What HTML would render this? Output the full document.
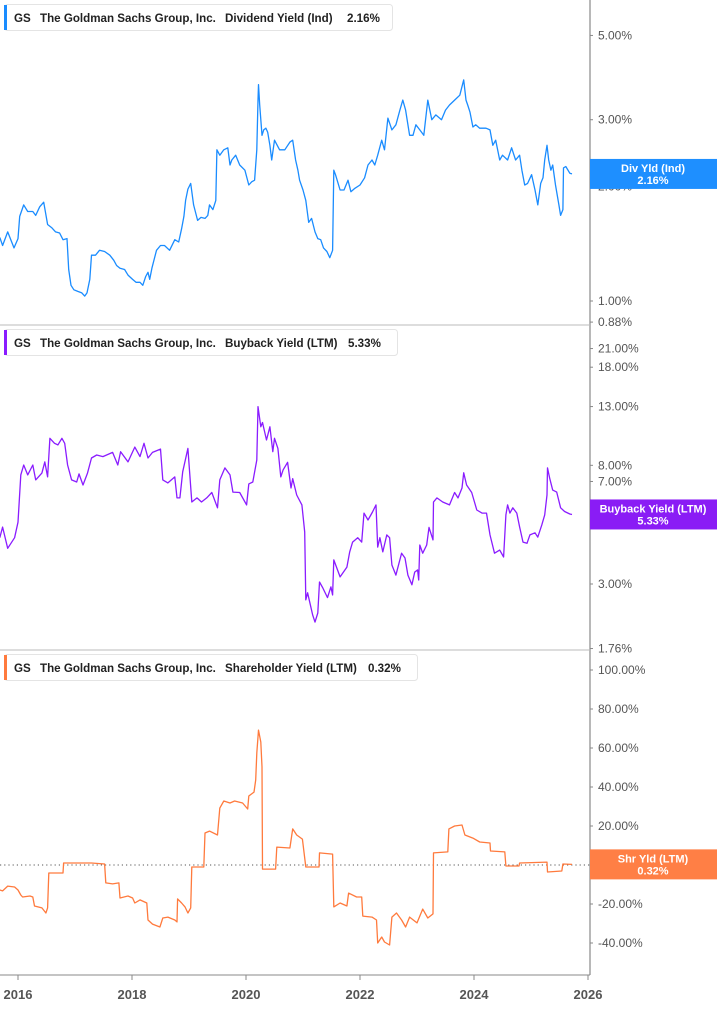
<!DOCTYPE html>
<html><head><meta charset="utf-8">
<style>
html,body{margin:0;padding:0;background:#fff;}
body{width:717px;height:1005px;overflow:hidden;font-family:"Liberation Sans",Arial,sans-serif;}
svg text{font-family:"Liberation Sans",Arial,sans-serif;}
</style></head>
<body>
<svg id="chart" width="717" height="1005" viewBox="0 0 717 1005" xmlns="http://www.w3.org/2000/svg"></svg>
<script>
// ---- data ----
const divDates=[2015.68,2015.73,2015.82,2015.93,2016.00,2016.03,2016.10,2016.17,2016.26,2016.31,2016.38,2016.45,2016.52,2016.59,2016.66,2016.73,2016.79,2016.86,2016.89,2016.93,2016.98,2017.05,2017.12,2017.17,2017.21,2017.26,2017.29,2017.36,2017.43,2017.52,2017.61,2017.68,2017.73,2017.79,2017.87,2017.93,2018.01,2018.07,2018.14,2018.19,2018.24,2018.28,2018.31,2018.35,2018.43,2018.50,2018.57,2018.66,2018.75,2018.82,2018.87,2018.91,2018.94,2018.98,2019.03,2019.08,2019.15,2019.21,2019.28,2019.33,2019.36,2019.42,2019.47,2019.49,2019.54,2019.61,2019.68,2019.72,2019.75,2019.82,2019.89,2019.98,2020.05,2020.10,2020.15,2020.19,2020.21,2020.22,2020.24,2020.28,2020.31,2020.35,2020.38,2020.42,2020.45,2020.50,2020.59,2020.68,2020.77,2020.82,2020.87,2020.91,2020.94,2021.00,2021.05,2021.10,2021.15,2021.21,2021.26,2021.31,2021.36,2021.42,2021.47,2021.52,2021.54,2021.57,2021.65,2021.72,2021.79,2021.84,2021.91,2022.00,2022.08,2022.14,2022.21,2022.26,2022.31,2022.38,2022.43,2022.49,2022.56,2022.63,2022.70,2022.75,2022.80,2022.87,2022.93,2022.98,2023.05,2023.12,2023.19,2023.26,2023.33,2023.43,2023.50,2023.57,2023.66,2023.75,2023.82,2023.86,2023.89,2023.93,2023.98,2024.03,2024.10,2024.21,2024.28,2024.33,2024.38,2024.45,2024.50,2024.59,2024.66,2024.73,2024.80,2024.84,2024.89,2024.94,2025.01,2025.07,2025.12,2025.17,2025.21,2025.24,2025.28,2025.31,2025.35,2025.38,2025.43,2025.49,2025.52,2025.56,2025.57,2025.61,2025.68,2025.72];
const divValues=[1.47,1.40,1.52,1.38,1.46,1.67,1.79,1.72,1.72,1.68,1.77,1.82,1.59,1.56,1.52,1.51,1.45,1.46,1.21,1.10,1.07,1.06,1.05,1.03,1.05,1.14,1.32,1.32,1.36,1.35,1.32,1.28,1.24,1.22,1.21,1.17,1.14,1.12,1.12,1.10,1.16,1.19,1.14,1.22,1.36,1.40,1.40,1.36,1.45,1.43,1.55,1.67,1.84,1.97,2.04,1.79,1.63,1.66,1.65,1.68,1.79,1.74,1.84,2.50,2.42,2.50,2.53,2.28,2.35,2.42,2.28,2.21,2.02,2.06,2.08,2.50,3.38,3.71,3.28,2.73,2.82,2.85,2.78,2.57,2.35,2.65,2.50,2.50,2.62,2.65,2.35,2.21,2.08,1.96,1.84,1.61,1.65,1.52,1.46,1.45,1.38,1.35,1.30,1.36,2.21,2.15,1.96,1.96,2.08,1.94,1.98,2.02,2.11,2.28,2.35,2.28,2.42,2.65,2.50,3.03,2.82,2.91,3.18,3.38,3.18,2.73,2.73,2.91,2.82,2.73,3.38,3.00,3.09,3.00,3.18,3.28,3.38,3.48,3.82,3.38,3.28,3.14,2.87,2.91,2.85,2.85,2.82,2.57,2.65,2.35,2.42,2.35,2.53,2.35,2.42,2.21,2.02,2.04,2.15,1.96,1.79,2.04,2.11,2.35,2.57,2.35,2.21,2.28,2.02,1.79,1.68,1.74,2.24,2.26,2.17,2.16];

const bbDates=[2015.68,2015.73,2015.82,2015.94,2016.00,2016.05,2016.10,2016.17,2016.26,2016.31,2016.42,2016.47,2016.52,2016.56,2016.64,2016.70,2016.77,2016.82,2016.87,2016.94,2017.03,2017.07,2017.14,2017.22,2017.29,2017.38,2017.49,2017.66,2017.75,2017.80,2017.93,2018.05,2018.14,2018.21,2018.28,2018.36,2018.50,2018.54,2018.63,2018.75,2018.79,2018.84,2018.89,2018.98,2019.05,2019.14,2019.22,2019.31,2019.40,2019.50,2019.54,2019.63,2019.72,2019.77,2019.89,2020.01,2020.05,2020.12,2020.19,2020.21,2020.26,2020.29,2020.36,2020.42,2020.47,2020.50,2020.56,2020.61,2020.65,2020.73,2020.79,2020.82,2020.89,2020.98,2021.03,2021.05,2021.08,2021.17,2021.21,2021.26,2021.29,2021.35,2021.43,2021.49,2021.52,2021.54,2021.65,2021.77,2021.82,2021.87,2021.96,2022.03,2022.07,2022.14,2022.22,2022.28,2022.31,2022.35,2022.40,2022.47,2022.52,2022.56,2022.63,2022.73,2022.79,2022.84,2022.91,2022.96,2023.01,2023.03,2023.05,2023.10,2023.17,2023.21,2023.28,2023.29,2023.35,2023.45,2023.57,2023.66,2023.72,2023.79,2023.82,2023.87,2023.96,2024.05,2024.14,2024.22,2024.28,2024.36,2024.45,2024.52,2024.56,2024.59,2024.63,2024.68,2024.75,2024.80,2024.86,2024.93,2024.98,2025.07,2025.12,2025.19,2025.24,2025.28,2025.29,2025.33,2025.38,2025.45,2025.52,2025.59,2025.68,2025.72];
const bbValues=[4.40,4.80,4.03,4.40,5.00,7.39,8.02,7.39,8.02,7.09,7.50,8.23,7.27,10.0,9.6,9.47,10.0,9.6,8.02,7.09,6.97,7.45,6.80,7.5,8.5,8.71,8.6,8.9,8.02,8.95,8.23,9.3,8.6,9.6,8.5,8.9,9.15,7.09,6.92,7.27,6.11,6.11,7.58,9.2,5.91,6.11,5.91,6.11,6.39,5.63,7.09,7.83,7.39,6.41,6.39,5.77,6.86,6.97,8.36,13.0,11.0,11.4,9.86,11.0,8.95,10.0,9.2,7.27,7.70,8.2,6.63,7.16,6.26,5.77,4.61,2.63,2.79,2.32,2.19,2.36,3.05,2.90,2.68,2.93,2.74,3.66,3.18,3.45,3.91,4.24,4.40,4.24,5.39,5.09,5.44,5.77,4.07,4.40,3.91,4.50,4.40,3.51,3.23,3.87,3.72,3.23,2.98,3.31,3.37,3.10,4.14,3.87,4.14,4.79,4.32,5.91,6.11,5.91,5.77,6.39,6.11,6.63,7.52,6.80,6.39,5.53,5.39,5.39,4.50,3.87,3.97,3.75,5.31,5.77,5.39,5.63,5.39,4.81,4.24,4.20,4.50,4.58,4.42,4.89,5.31,6.26,7.83,7.16,6.52,6.41,5.63,5.46,5.35,5.33];

const shDates=[2015.68,2015.73,2015.82,2015.94,2016.00,2016.05,2016.08,2016.21,2016.26,2016.29,2016.42,2016.49,2016.52,2016.54,2016.79,2016.80,2017.08,2017.29,2017.52,2017.54,2017.66,2017.77,2017.79,2017.93,2018.01,2018.05,2018.14,2018.26,2018.28,2018.36,2018.49,2018.54,2018.63,2018.75,2018.79,2018.80,2018.87,2018.93,2018.98,2019.03,2019.05,2019.26,2019.28,2019.36,2019.50,2019.54,2019.61,2019.72,2019.80,2019.94,2020.03,2020.05,2020.14,2020.17,2020.19,2020.22,2020.26,2020.28,2020.29,2020.52,2020.54,2020.77,2020.82,2020.89,2020.99,2021.05,2021.28,2021.29,2021.52,2021.54,2021.65,2021.77,2021.80,2021.94,2022.03,2022.05,2022.21,2022.29,2022.31,2022.38,2022.43,2022.52,2022.56,2022.64,2022.73,2022.80,2022.87,2023.00,2023.10,2023.19,2023.28,2023.29,2023.54,2023.56,2023.66,2023.79,2023.84,2023.98,2024.10,2024.28,2024.29,2024.54,2024.56,2024.79,2024.80,2025.28,2025.29,2025.54,2025.56,2025.72];
const shValues=[-12.8,-13.3,-10.8,-11.3,-12.8,-15.4,-16.4,-15.9,-16.4,-21,-22,-24.6,-22,-4.1,-4.1,1.0,1.0,1.0,0.5,-9.2,-9.7,-9.2,-16.9,-15.9,-16.9,-19.5,-17.9,-19.5,-28.2,-30.3,-31.8,-27.2,-26.7,-28.2,-29.2,-17.4,-19.5,-21.5,-24.6,-22,-1.0,-1.0,16.4,17.4,15.4,29.2,32.8,31.8,32.8,31.8,28.7,35.4,37.4,43.6,57.4,69.2,63.1,50.3,-2.1,-2.1,9.2,8.7,18.5,15.4,13.3,-1.0,-1.0,6.2,5.6,-21.5,-19.5,-21,-14.4,-16.4,-16.4,-26.2,-26.7,-28.2,-40,-36.9,-39.5,-41,-26.7,-24.6,-28.2,-31.8,-26.7,-29.7,-22.6,-27.2,-25.1,6.2,6.7,18.5,20,20.5,15.4,13.8,11.8,11.3,7.2,6.7,-0.5,-0.5,1.0,1.5,-3.6,-3.1,0.5,0.32];

const yearTicks=[2016,2018,2020,2022,2024,2026];
const divTicks=[5,3,2,1,0.88];
const bbTicks=[21,18,13,8,7,3,1.76];
const shTicks=[100,80,60,40,20,0,-20,-40];

// ---- axis functions ----
const AX=590;
const xS=t=>18+(t-2016)*57;
const yDiv=v=>301-165*Math.log(v);
const yBB=v=>584-121*Math.log(v/3);
const ySh=v=>865-1.95*v;

const svg=document.getElementById('chart');
const NS='http://www.w3.org/2000/svg';
function mk(tag,attrs,parent){const e=document.createElementNS(NS,tag);for(const k in attrs)e.setAttribute(k,attrs[k]);(parent||svg).appendChild(e);return e;}

let e;
e=mk('line',{x1:AX,y1:0,x2:AX,y2:975,stroke:'#888','stroke-width':1.2});


[325,650].forEach((y,i)=>{
  e=mk('line',{x1:0,y1:y,x2:AX,y2:y,stroke:'#bbb','stroke-width':1});
  
  
});
e=mk('line',{x1:0,y1:975,x2:AX,y2:975,stroke:'#888','stroke-width':1});


e=mk('line',{x1:0,y1:865,x2:AX,y2:865,stroke:'#555','stroke-width':1,'stroke-dasharray':'1.2,3'});



yearTicks.forEach(yr=>{
  const x=xS(yr);
  e=mk('line',{x1:x,y1:975,x2:x,y2:980,stroke:'#888'});
  
  
  e=mk('text',{x:x,y:999,'text-anchor':'middle','font-size':13,'font-weight':'bold',fill:'#555'});
  e.textContent=yr;
  
  
});

function yTicks(ticks,fn,name){
  ticks.forEach(v=>{
    const y=fn(v);
    e=mk('line',{x1:AX,y1:y,x2:AX+3,y2:y,stroke:'#888'});
    
    
    e=mk('text',{x:598,y:y+4,'font-size':12,fill:'#555'});
    e.textContent=v.toFixed(2)+'%';
    
    
  });
}
yTicks(divTicks,yDiv,'div-y');
yTicks(bbTicks,yBB,'bb-y');
yTicks(shTicks,ySh,'sh-y');

function line(dates,vals,fn,color,name){
  let d='';
  dates.forEach((t,i)=>{d+=(i?'L':'M')+xS(t).toFixed(1)+','+fn(vals[i]).toFixed(1);});
  e=mk('path',{d:d,fill:'none',stroke:color,'stroke-width':1.3,'stroke-linejoin':'round'});
  
  
}
line(divDates,divValues,yDiv,'#1a8cff','dividend-yield-line');
line(bbDates,bbValues,yBB,'#8a1cff','buyback-yield-line');
line(shDates,shValues,ySh,'#ff7a3d','shareholder-yield-line');

function badge(y,color,l1,l2,name){
  const g=mk('g',{});
  
  
  mk('rect',{x:AX,y:y-15,width:127,height:30,fill:color},g);
  let t=mk('text',{x:653,y:y-2,'text-anchor':'middle','font-size':11,'font-weight':'bold',fill:'#fff'},g);t.textContent=l1;
  t=mk('text',{x:653,y:y+10,'text-anchor':'middle','font-size':11,'font-weight':'bold',fill:'#fff'},g);t.textContent=l2;
}
badge(yDiv(divValues[divValues.length-1]),'#1e8fff','Div Yld (Ind)','2.16%','div-yield-badge');
badge(yBB(bbValues[bbValues.length-1]),'#8a1cf5','Buyback Yield (LTM)','5.33%','buyback-yield-badge');
badge(ySh(shValues[shValues.length-1]),'#ff7f45','Shr Yld (LTM)','0.32%','shr-yield-badge');

function legend(y,w,color,metric,val,mx,vx,name){
  const g=mk('g',{});
  
  
  mk('rect',{x:4.5,y:y+0.5,width:w,height:26,rx:3,fill:'#fff',stroke:'#e4e4e4'},g);
  mk('rect',{x:4,y:y+1,width:3,height:25,fill:color},g);
  const items=[['GS',14],['The Goldman Sachs Group, Inc.',40],[metric,mx],[val,vx]];
  items.forEach(it=>{const t=mk('text',{x:it[1],y:y+18,'font-size':11.6,'font-weight':'bold',fill:'#222'},g);t.textContent=it[0];});
}
legend(4,388,'#1a8cff','Dividend Yield (Ind)','2.16%',225,347,'legend-dividend');
legend(329,393,'#8a1cff','Buyback Yield (LTM)','5.33%',225,348,'legend-buyback');
legend(654,413,'#ff7a3d','Shareholder Yield (LTM)','0.32%',225,368,'legend-shareholder');
</script>
</body></html>
